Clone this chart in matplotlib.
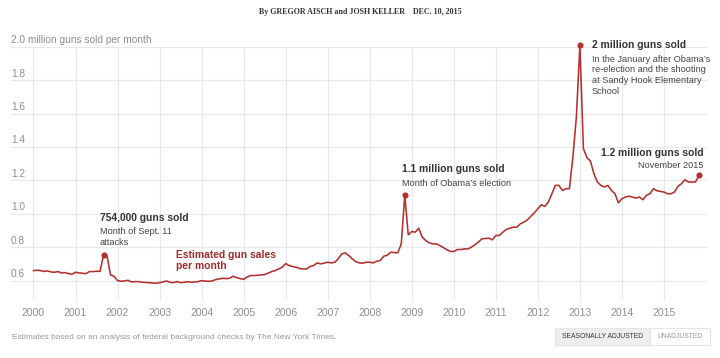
import matplotlib
matplotlib.use("Agg")
import matplotlib.pyplot as plt
import matplotlib.transforms as mtrans
from matplotlib.patches import Rectangle
import numpy as np

plt.rcParams['font.family'] = ['Liberation Sans', 'DejaVu Sans']

# ---- data (million guns sold per month, seasonally adjusted) ----
sales_2000 = [0.660, 0.662, 0.660, 0.655, 0.658, 0.652, 0.650, 0.654, 0.646, 0.648, 0.642, 0.638]
sales_2001 = [0.650, 0.646, 0.644, 0.642, 0.654, 0.654, 0.656, 0.655, 0.754, 0.748, 0.634, 0.626]
sales_2002 = [0.600, 0.596, 0.598, 0.602, 0.592, 0.594, 0.594, 0.590, 0.589, 0.588, 0.586, 0.584]
sales_2003 = [0.588, 0.592, 0.598, 0.590, 0.588, 0.594, 0.588, 0.590, 0.594, 0.590, 0.592, 0.594]
sales_2004 = [0.600, 0.597, 0.596, 0.598, 0.606, 0.610, 0.614, 0.612, 0.614, 0.626, 0.618, 0.612]
sales_2005 = [0.608, 0.622, 0.630, 0.630, 0.632, 0.634, 0.636, 0.645, 0.654, 0.660, 0.670, 0.680]
sales_2006 = [0.702, 0.690, 0.684, 0.680, 0.672, 0.670, 0.670, 0.685, 0.690, 0.706, 0.700, 0.705]
sales_2007 = [0.710, 0.706, 0.710, 0.730, 0.760, 0.766, 0.750, 0.730, 0.714, 0.706, 0.704, 0.710]
sales_2008 = [0.710, 0.706, 0.716, 0.720, 0.746, 0.752, 0.770, 0.768, 0.766, 0.820, 1.110, 0.874]
sales_2009 = [0.894, 0.890, 0.914, 0.860, 0.840, 0.826, 0.820, 0.820, 0.810, 0.798, 0.785, 0.775]
sales_2010 = [0.774, 0.786, 0.786, 0.790, 0.790, 0.800, 0.814, 0.830, 0.850, 0.852, 0.854, 0.844]
sales_2011 = [0.870, 0.870, 0.890, 0.906, 0.914, 0.920, 0.920, 0.940, 0.950, 0.964, 0.985, 1.006]
sales_2012 = [1.030, 1.054, 1.044, 1.070, 1.120, 1.170, 1.170, 1.140, 1.150, 1.150, 1.340, 1.580]
sales_2013 = [2.010, 1.390, 1.336, 1.316, 1.240, 1.190, 1.170, 1.160, 1.170, 1.140, 1.120, 1.066]
sales_2014 = [1.090, 1.100, 1.106, 1.100, 1.094, 1.100, 1.084, 1.110, 1.120, 1.150, 1.138, 1.134]
sales_2015 = [1.130, 1.120, 1.120, 1.130, 1.164, 1.180, 1.204, 1.190, 1.190, 1.190, 1.230]

start_year = 2000
year_ticks = list(range(2000, 2016))
y_ticks = [0.6, 0.8, 1.0, 1.2, 1.4, 1.6, 1.8]
y_tick_labels = ["0.6", "0.8", "1.0", "1.2", "1.4", "1.6", "1.8"]
top_label = "2.0 million guns sold per month"

# annotated months: (year, month index 1-12)
highlight_months = [(2001, 9), (2008, 11), (2013, 1), (2015, 11)]

sales = np.array(sales_2000 + sales_2001 + sales_2002 + sales_2003 + sales_2004 +
                 sales_2005 + sales_2006 + sales_2007 + sales_2008 + sales_2009 +
                 sales_2010 + sales_2011 + sales_2012 + sales_2013 + sales_2014 +
                 sales_2015)
t = start_year + np.arange(len(sales)) / 12.0

# ---- figure ----
W, H = 720, 358
fig = plt.figure(figsize=(W / 100, H / 100), dpi=100)

def fx(x):
    return x / W

def fy(y):
    return 1 - y / H

ax_l, ax_r, ax_t, ax_b = 11, 707, 46.7, 301
ax = fig.add_axes([fx(ax_l), fy(ax_b), fx(ax_r - ax_l), (ax_b - ax_t) / H])
ax.set_xlim(1999.465, 2016.024)
ax.set_ylim(0.478, 2.0)
for s in ax.spines.values():
    s.set_visible(False)

grid_c = '#e8e8e8'
for yv in y_ticks + [2.0]:
    ax.axhline(yv, color=grid_c, lw=0.9, zorder=0)
for xv in year_ticks:
    ax.axvline(xv, color=grid_c, lw=0.9, zorder=0)

red = '#b2302f'
ax.plot(t, sales, color=red, lw=1.15, zorder=3, clip_on=False, solid_joinstyle='round')
for (yr, mo) in highlight_months:
    i = (yr - start_year) * 12 + (mo - 1)
    ax.plot(t[i], sales[i], 'o', color=red, ms=3.4, zorder=4, clip_on=False)

# y tick labels (inside, above gridlines)
off = mtrans.ScaledTranslation(0, 3.5 / 100, fig.dpi_scale_trans)
ytr = mtrans.blended_transform_factory(ax.transAxes, ax.transData) + off
tick_c = '#8e8e8e'
for yv, lab in zip(y_ticks, y_tick_labels):
    ax.text(0, yv, lab, transform=ytr, ha='left', va='baseline', fontsize=7.3, color=tick_c)
ax.text(0, 2.0, top_label, transform=ytr, ha='left', va='baseline', fontsize=7.3, color=tick_c)

ax.set_yticks([])
ax.set_xticks(year_ticks)
ax.set_xticklabels([str(y) for y in year_ticks], fontsize=7.5, color=tick_c)
ax.tick_params(axis='x', length=0, pad=5.0)

# ---- annotations ----
dark = '#333333'
txt = '#444444'
bsize, nsize = 7.4, 6.6
fig.text(fx(100), fy(220.7), "754,000 guns sold", fontsize=bsize, fontweight='bold', color=dark, va='baseline')
fig.text(fx(100), fy(234), "Month of Sept. 11", fontsize=nsize, color=txt, va='baseline')
fig.text(fx(100), fy(245), "attacks", fontsize=nsize, color=txt, va='baseline')

fig.text(fx(176), fy(258.5), "Estimated gun sales", fontsize=bsize, fontweight='bold', color='#9e2a2b', va='baseline')
fig.text(fx(176), fy(269.3), "per month", fontsize=bsize, fontweight='bold', color='#9e2a2b', va='baseline')

fig.text(fx(401.7), fy(172.3), "1.1 million guns sold", fontsize=bsize, fontweight='bold', color=dark, va='baseline')
fig.text(fx(401.7), fy(186), "Month of Obama\u2019s election", fontsize=nsize, color=txt, va='baseline')

fig.text(fx(591.7), fy(47.7), "2 million guns sold", fontsize=bsize, fontweight='bold', color=dark, va='baseline')
for k, line in enumerate(["In the January after Obama\u2019s", "re-election and the shooting",
                          "at Sandy Hook Elementary", "School"]):
    fig.text(fx(591.7), fy(61.7 + k * 10.8), line, fontsize=nsize, color=txt, va='baseline')

fig.text(fx(703.3), fy(155.7), "1.2 million guns sold", fontsize=bsize, fontweight='bold', color=dark, va='baseline', ha='right')
fig.text(fx(703.3), fy(168.3), "November 2015", fontsize=nsize, color=txt, va='baseline', ha='right')

# byline
fig.text(0.5, fy(13.5), "By GREGOR AISCH and JOSH KELLER    DEC. 10, 2015", fontsize=5.8,
         family='Liberation Serif', fontweight='bold', color='#333333', ha='center', va='baseline')

# footer
fig.text(fx(11.7), fy(339), "Estimates based on an analysis of federal background checks by The New York Times.",
         fontsize=6.0, color='#999999', va='baseline')

# toggle buttons
fig.patches.append(Rectangle((fx(555), fy(345.3)), fx(95), (345.3 - 327.7) / H, transform=fig.transFigure,
                             facecolor='#eeeeee', edgecolor='#e4e4e4', lw=0.8))
fig.patches.append(Rectangle((fx(650), fy(345.3)), fx(60), (345.3 - 327.7) / H, transform=fig.transFigure,
                             facecolor='white', edgecolor='#e4e4e4', lw=0.8))
fig.text(fx(602.5), fy(336.5), "SEASONALLY ADJUSTED", fontsize=4.9, color='#333333', ha='center', va='center')
fig.text(fx(680), fy(336.5), "UNADJUSTED", fontsize=4.9, color='#999999', ha='center', va='center')

fig.savefig("out.png", dpi=100)
